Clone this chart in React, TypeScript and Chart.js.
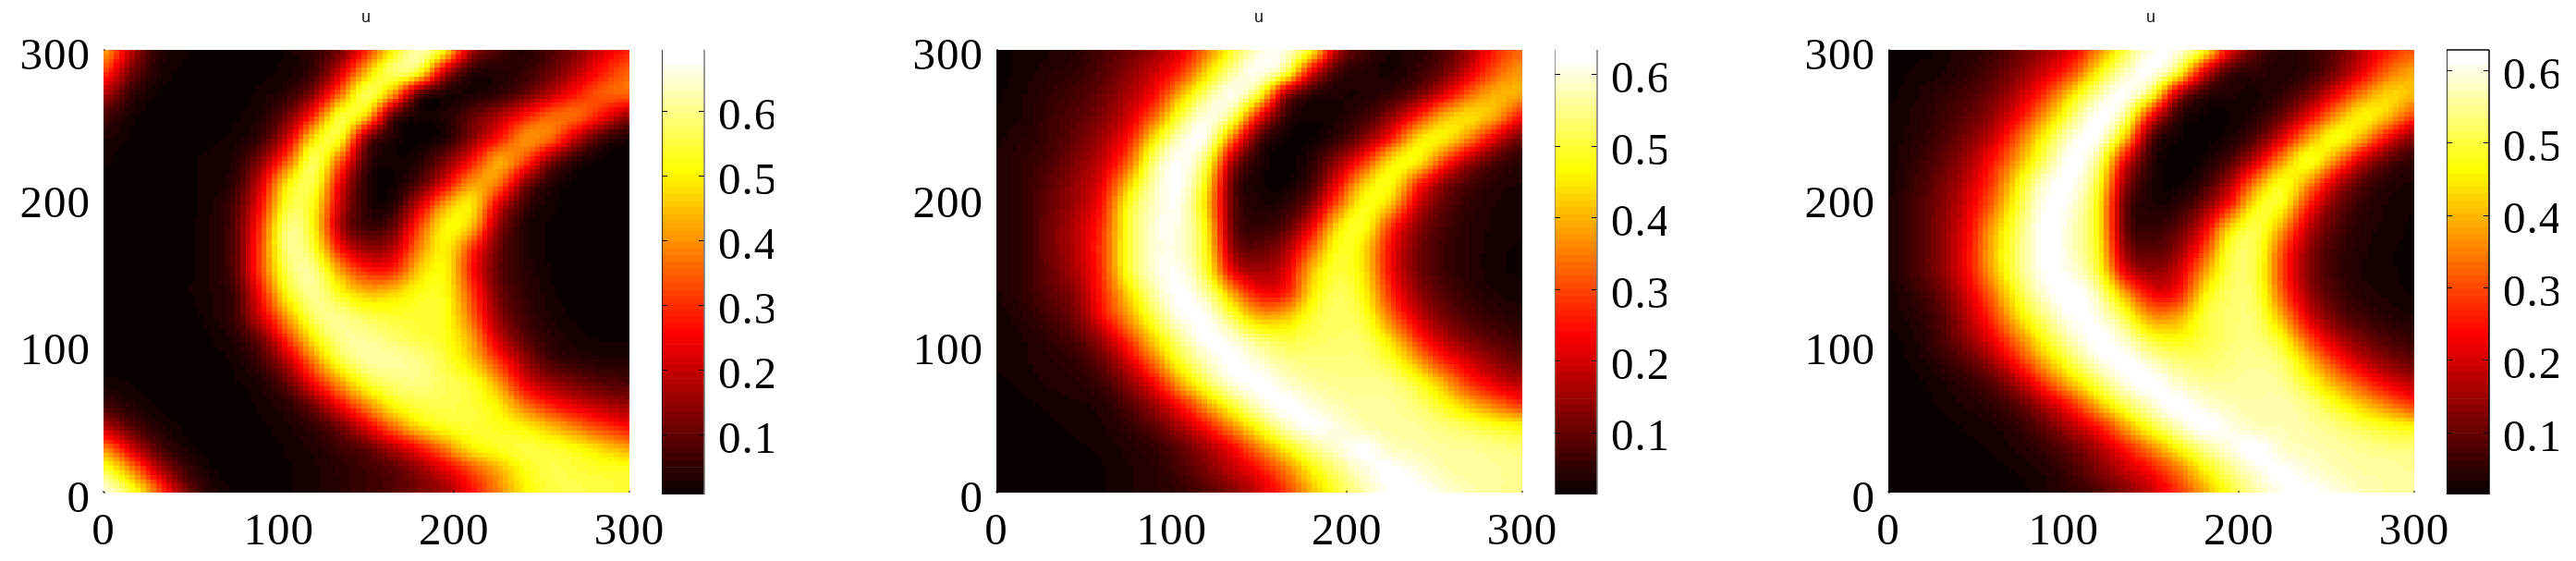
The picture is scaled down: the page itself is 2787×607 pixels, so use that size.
import { useEffect, useRef } from "react"
import { Chart, registerables } from "chart.js"

Chart.register(...registerables)

const gridX = [0, 15, 30, 45, 60, 75, 90, 105, 120, 135, 150, 165, 180, 195, 210, 225, 240, 255, 270, 285, 300]
// rows run top to bottom of the picture
const gridY = [300, 285, 270, 255, 240, 225, 210, 195, 180, 165, 150, 135, 120, 105, 90, 75, 60, 45, 30, 15, 0]
const axisTicks = [0, 100, 200, 300]
const barTicks = [0.1, 0.2, 0.3, 0.4, 0.5, 0.6]

const fieldA = [
  [.45, .20, .04, .02, .01, .01, .01, .02, .05, .10, .28, .50, .65, .53, .16, .07, .03, .07, .13, .22, .28],
  [.33, .12, .03, .015, .01, .01, .015, .02, .05, .20, .45, .61, .57, .17, .03, .03, .05, .10, .18, .28, .36],
  [.18, .05, .015, .01, .01, .01, .02, .04, .13, .36, .61, .42, .05, .015, .02, .04, .09, .18, .28, .36, .37],
  [.07, .02, .01, .01, .01, .015, .03, .11, .30, .58, .48, .06, .015, .03, .10, .17, .28, .37, .38, .26, .13],
  [.03, .015, .01, .01, .015, .02, .05, .20, .51, .56, .10, .02, .01, .02, .13, .26, .42, .38, .18, .05, .02],
  [.02, .01, .01, .015, .02, .03, .13, .34, .61, .35, .05, .015, .03, .12, .26, .45, .34, .12, .03, .01, .01],
  [.015, .01, .01, .015, .02, .04, .21, .51, .58, .23, .025, .01, .07, .22, .42, .40, .13, .03, .01, .01, .01],
  [.01, .01, .01, .015, .02, .07, .26, .56, .53, .19, .03, .025, .20, .43, .52, .22, .05, .02, .01, .01, .01],
  [.01, .01, .01, .015, .025, .08, .31, .62, .52, .15, .05, .09, .32, .53, .46, .14, .03, .015, .01, .01, .01],
  [.01, .01, .01, .015, .025, .08, .33, .62, .55, .26, .14, .17, .39, .52, .30, .10, .03, .015, .01, .01, .01],
  [.01, .01, .01, .015, .025, .08, .33, .58, .62, .42, .28, .28, .47, .52, .27, .09, .04, .015, .01, .01, .01],
  [.01, .01, .01, .015, .025, .05, .27, .53, .62, .52, .44, .47, .53, .53, .32, .11, .05, .02, .01, .01, .01],
  [.01, .01, .01, .015, .02, .06, .22, .43, .59, .61, .56, .54, .54, .53, .36, .14, .06, .025, .015, .01, .01],
  [.01, .01, .01, .01, .015, .035, .11, .31, .51, .61, .61, .58, .55, .53, .42, .20, .08, .04, .02, .015, .015],
  [.015, .01, .01, .01, .01, .02, .06, .19, .39, .56, .62, .62, .60, .55, .46, .30, .15, .06, .04, .03, .03],
  [.02, .015, .01, .01, .01, .015, .03, .10, .27, .42, .55, .59, .60, .57, .54, .42, .22, .15, .11, .08, .07],
  [.06, .03, .015, .01, .01, .01, .02, .04, .12, .26, .40, .52, .56, .56, .55, .50, .36, .27, .21, .17, .14],
  [.18, .08, .03, .015, .01, .01, .015, .025, .05, .11, .23, .37, .49, .54, .55, .53, .50, .44, .37, .30, .25],
  [.40, .22, .08, .025, .01, .01, .01, .02, .03, .06, .09, .17, .26, .38, .50, .54, .56, .55, .52, .47, .42],
  [.57, .42, .20, .07, .02, .01, .01, .015, .025, .04, .06, .08, .14, .22, .32, .42, .52, .56, .55, .54, .54],
  [.68, .57, .38, .14, .04, .015, .01, .015, .025, .04, .06, .08, .12, .15, .26, .38, .50, .55, .56, .55, .54],
]

const fieldB = [
  [.02, .025, .03, .04, .07, .10, .14, .21, .34, .49, .60, .61, .49, .15, .06, .03, .04, .07, .15, .27, .33],
  [.02, .025, .04, .05, .08, .13, .19, .27, .43, .57, .63, .55, .21, .05, .04, .025, .05, .10, .20, .32, .38],
  [.02, .03, .05, .07, .10, .16, .23, .40, .55, .63, .51, .13, .035, .03, .03, .05, .10, .20, .33, .41, .40],
  [.025, .03, .06, .08, .12, .19, .32, .51, .62, .55, .23, .045, .02, .03, .06, .13, .26, .41, .46, .40, .24],
  [.03, .04, .06, .10, .15, .24, .45, .60, .62, .33, .06, .02, .015, .05, .12, .25, .45, .48, .36, .20, .09],
  [.03, .05, .07, .12, .18, .31, .55, .63, .53, .14, .03, .015, .04, .14, .27, .46, .49, .30, .15, .07, .04],
  [.03, .05, .09, .14, .21, .41, .58, .63, .47, .07, .025, .015, .06, .23, .43, .50, .28, .13, .07, .04, .03],
  [.03, .05, .10, .15, .24, .49, .59, .62, .43, .08, .03, .04, .12, .33, .50, .42, .19, .09, .05, .03, .025],
  [.03, .05, .11, .17, .27, .50, .60, .61, .47, .08, .05, .08, .22, .46, .50, .27, .13, .07, .04, .03, .025],
  [.03, .05, .11, .17, .28, .50, .60, .60, .48, .12, .09, .15, .33, .50, .44, .23, .11, .06, .04, .025, .02],
  [.03, .05, .10, .16, .27, .50, .60, .62, .50, .20, .15, .20, .42, .51, .45, .23, .11, .06, .04, .025, .02],
  [.03, .05, .09, .13, .26, .43, .57, .63, .57, .38, .23, .24, .45, .53, .47, .27, .14, .08, .05, .03, .025],
  [.025, .04, .07, .11, .24, .38, .52, .62, .62, .50, .38, .40, .50, .53, .50, .33, .19, .11, .07, .05, .035],
  [.025, .03, .05, .08, .15, .29, .44, .56, .63, .60, .53, .50, .52, .53, .53, .43, .27, .17, .11, .08, .06],
  [.025, .03, .04, .05, .10, .20, .35, .50, .59, .63, .59, .55, .54, .54, .54, .50, .38, .26, .19, .13, .09],
  [.02, .025, .035, .04, .06, .13, .24, .40, .53, .61, .63, .59, .56, .55, .55, .55, .49, .39, .27, .20, .16],
  [.02, .02, .025, .03, .035, .08, .15, .25, .39, .51, .60, .63, .60, .57, .56, .56, .54, .48, .40, .33, .27],
  [.02, .02, .02, .025, .03, .05, .09, .16, .25, .37, .49, .59, .63, .60, .57, .56, .56, .54, .52, .49, .47],
  [.02, .02, .02, .02, .025, .035, .05, .09, .15, .23, .35, .46, .55, .60, .63, .58, .57, .56, .56, .55, .54],
  [.02, .02, .02, .02, .02, .03, .04, .07, .12, .18, .24, .34, .46, .54, .60, .63, .60, .57, .56, .56, .55],
  [.02, .02, .02, .02, .02, .03, .04, .05, .08, .12, .19, .28, .40, .50, .57, .62, .63, .60, .57, .56, .55],
]

const fieldC = [
  [.02, .02, .025, .04, .06, .10, .15, .21, .35, .50, .61, .61, .50, .22, .08, .04, .05, .09, .17, .26, .31],
  [.02, .025, .03, .05, .08, .13, .20, .29, .46, .58, .63, .52, .20, .05, .05, .03, .05, .11, .21, .33, .39],
  [.02, .03, .05, .07, .11, .18, .28, .44, .57, .63, .52, .15, .04, .035, .025, .05, .11, .22, .35, .44, .41],
  [.025, .035, .06, .09, .14, .24, .38, .53, .63, .56, .22, .04, .02, .02, .04, .10, .22, .37, .48, .42, .28],
  [.025, .04, .07, .12, .19, .33, .48, .60, .62, .42, .06, .02, .015, .03, .08, .21, .39, .50, .40, .22, .11],
  [.025, .05, .09, .15, .25, .39, .53, .63, .55, .21, .04, .015, .025, .07, .19, .38, .51, .36, .18, .08, .045],
  [.025, .06, .11, .18, .29, .47, .60, .62, .50, .13, .03, .015, .05, .16, .36, .50, .37, .18, .08, .04, .03],
  [.03, .07, .12, .20, .33, .50, .62, .60, .47, .08, .03, .04, .11, .25, .48, .49, .25, .11, .05, .03, .025],
  [.03, .07, .13, .22, .39, .53, .63, .58, .47, .08, .05, .08, .20, .44, .52, .38, .17, .08, .04, .03, .02],
  [.03, .07, .13, .23, .41, .54, .63, .58, .48, .12, .08, .13, .28, .51, .52, .30, .13, .06, .035, .025, .02],
  [.03, .07, .13, .23, .40, .54, .62, .60, .50, .20, .13, .18, .37, .52, .51, .28, .12, .06, .03, .025, .02],
  [.025, .05, .10, .20, .34, .50, .60, .63, .57, .38, .22, .23, .45, .53, .52, .31, .14, .07, .04, .03, .02],
  [.025, .04, .08, .17, .29, .45, .55, .62, .60, .50, .35, .37, .50, .53, .53, .38, .19, .10, .06, .04, .03],
  [.02, .03, .07, .14, .23, .36, .49, .58, .63, .58, .48, .46, .50, .53, .54, .47, .29, .17, .11, .07, .055],
  [.02, .025, .05, .09, .16, .28, .41, .52, .60, .63, .57, .53, .52, .54, .55, .53, .40, .27, .18, .12, .09],
  [.02, .02, .03, .05, .09, .17, .30, .42, .53, .60, .63, .58, .55, .55, .56, .55, .48, .38, .29, .21, .16],
  [.02, .02, .025, .035, .05, .09, .17, .27, .41, .52, .59, .63, .59, .57, .56, .57, .54, .48, .41, .34, .27],
  [.02, .02, .02, .025, .03, .05, .10, .17, .25, .38, .50, .58, .63, .60, .57, .57, .56, .54, .51, .48, .46],
  [.02, .02, .02, .02, .025, .035, .06, .10, .16, .25, .35, .46, .55, .60, .63, .58, .57, .56, .55, .54, .54],
  [.02, .02, .02, .02, .02, .025, .035, .07, .12, .18, .24, .33, .45, .54, .60, .62, .59, .57, .56, .56, .55],
  [.02, .02, .02, .02, .02, .02, .03, .05, .07, .12, .18, .27, .38, .49, .56, .61, .62, .60, .57, .56, .56],
]

const COLOR_LEVELS = 64

// matlab "hot" with 64 steps
function hotColor(level: number) {
  const t = (level + 1) / COLOR_LEVELS
  const r = Math.min(1, t / 0.375)
  const g = Math.min(1, Math.max(0, (t - 0.375) / 0.375))
  const b = Math.max(0, (t - 0.75) / 0.25)
  return `rgb(${Math.round(r * 255)},${Math.round(g * 255)},${Math.round(b * 255)})`
}

function catmull(a: number, b: number, c: number, d: number, t: number) {
  return b + 0.5 * t * (c - a + t * (2 * a - 5 * b + 4 * c - d + t * (3 * (b - c) + d - a)))
}

function bspline(a: number, b: number, c: number, d: number, t: number) {
  const u = 1 - t
  return (u * u * u * a + (3 * t * t * t - 6 * t * t + 4) * b + (-3 * t * t * t + 3 * t * t + 3 * t + 1) * c + t * t * t * d) / 6
}

// like shading interp: paints the typed grid through the chart's own scales
const heatPlugin = {
  id: "heatField",
  beforeDatasetsDraw(chart: any) {
    const opts = chart.options.plugins.heatField
    const { ctx, scales } = chart
    const rows = opts.rows as number[][]
    const cells = 100
    const at = (c: number, r: number) =>
      rows[Math.min(20, Math.max(0, r))][Math.min(20, Math.max(0, c))]
    const shade = (f: typeof catmull, fx: number, fy: number) => {
      const c0 = Math.floor(fx)
      const r0 = Math.floor(fy)
      const line = [-1, 0, 1, 2].map((dr) =>
        f(at(c0 - 1, r0 + dr), at(c0, r0 + dr), at(c0 + 1, r0 + dr), at(c0 + 2, r0 + dr), fx - c0)
      )
      return f(line[0], line[1], line[2], line[3], fy - r0)
    }
    for (let j = 0; j < cells; j++) {
      for (let i = 0; i < cells; i++) {
        const fx = ((i + 0.5) / cells) * 20
        const fy = ((j + 0.5) / cells) * 20
        const v = 0.55 * shade(catmull, fx, fy) + 0.45 * shade(bspline, fx, fy)
        const level = Math.floor(((v - opts.low) / (opts.high - opts.low)) * COLOR_LEVELS)
        ctx.fillStyle = hotColor(Math.min(COLOR_LEVELS - 1, Math.max(0, level)))
        const x0 = Math.round(scales.x.getPixelForValue((i / cells) * 300))
        const x1 = Math.round(scales.x.getPixelForValue(((i + 1) / cells) * 300))
        const y0 = Math.round(scales.y.getPixelForValue(300 - (j / cells) * 300))
        const y1 = Math.round(scales.y.getPixelForValue(300 - ((j + 1) / cells) * 300))
        ctx.fillRect(x0, y0, x1 - x0, y1 - y0)
      }
    }
  },
}

// small ticks pointing into the axes, as matlab draws them
const innerTicks = {
  id: "innerTicks",
  beforeDraw(chart: any) {
    chart.ctx.letterSpacing = "1px"
  },
  afterDraw(chart: any) {
    const { ctx, chartArea, scales } = chart
    const bar = chart.options.plugins.innerTicks
    ctx.letterSpacing = "0px"
    ctx.save()
    ctx.strokeStyle = "#000"
    ctx.lineWidth = 1
    ctx.beginPath()
    if (bar.colorbar) {
      for (const t of barTicks) {
        const y = Math.round(scales.y.getPixelForValue(t)) + 0.5
        ctx.moveTo(chartArea.left, y)
        ctx.lineTo(chartArea.left + 6, y)
        ctx.moveTo(chartArea.right - 6, y)
        ctx.lineTo(chartArea.right, y)
      }
    } else {
      for (const t of axisTicks) {
        const x = Math.round(scales.x.getPixelForValue(t))
        ctx.moveTo(x, chartArea.bottom)
        ctx.lineTo(x, chartArea.bottom - 2)
        const y = Math.round(scales.y.getPixelForValue(t))
        ctx.moveTo(chartArea.left, y)
        ctx.lineTo(chartArea.left + 2, y)
      }
    }
    ctx.stroke()
    ctx.restore()
    if (bar.colorbar) {
      ctx.save()
      ctx.lineWidth = 1.5
      ctx.strokeStyle = bar.leftLine
      ctx.beginPath()
      ctx.moveTo(chartArea.left, chartArea.top)
      ctx.lineTo(chartArea.left, chartArea.bottom)
      ctx.stroke()
      ctx.strokeStyle = bar.rightLine
      ctx.beginPath()
      ctx.moveTo(chartArea.right, chartArea.top)
      ctx.lineTo(chartArea.right, chartArea.bottom)
      ctx.stroke()
      if (bar.topLine) {
        ctx.strokeStyle = bar.topLine
        ctx.beginPath()
        ctx.moveTo(chartArea.left, chartArea.top)
        ctx.lineTo(chartArea.right, chartArea.top)
        ctx.stroke()
      }
      ctx.restore()
    }
  },
}

const tickFont = { family: "'Liberation Serif', serif", size: 49, lineHeight: "16px" }

interface PanelProps {
  rows: number[][]
  left: number
  barLeft: number
  low: number
  high: number
  axisTop: number
  leftLine: string
  rightLine: string
  topLine?: string
}

const TOP = 54
const HEAT_W = 569
const HEAT_H = 479
const BAR_W = 46
const BAR_H = 481

function HeatChart({ rows, left, low, high }: PanelProps) {
  const ref = useRef<HTMLCanvasElement>(null)
  useEffect(() => {
    if (!ref.current) return
    const points = rows.flatMap((row, r) => row.map((v, c) => ({ x: gridX[c], y: gridY[r], v })))
    const chart = new Chart(ref.current, {
      type: "scatter",
      data: { datasets: [{ data: points, pointRadius: 0, showLine: false }] },
      plugins: [heatPlugin, innerTicks],
      options: {
        animation: false,
        responsive: false,
        layout: { padding: { right: 45 } },
        plugins: {
          legend: { display: false },
          tooltip: { enabled: false },
          title: {
            display: true,
            text: "u",
            color: "#111",
            fullSize: false,
            font: { family: "'Liberation Sans', sans-serif", size: 18, weight: "normal", lineHeight: 1 },
            padding: { top: 10, bottom: TOP - 28 },
          },
          heatField: { rows, low, high },
          innerTicks: { colorbar: false },
        },
        scales: {
          x: {
            type: "linear",
            min: 0,
            max: 300,
            grid: { display: false },
            border: { display: false },
            afterBuildTicks: (s: any) => { s.ticks = axisTicks.map((value) => ({ value })) },
            afterFit: (s: any) => { s.height = 70 },
            ticks: { color: "#000", font: { ...tickFont, lineHeight: 1.1 }, padding: 8, maxRotation: 0, autoSkip: false },
          },
          y: {
            type: "linear",
            min: 0,
            max: 300,
            grid: { display: false },
            border: { display: false },
            afterBuildTicks: (s: any) => { s.ticks = axisTicks.map((value) => ({ value })) },
            afterFit: (s: any) => { s.width = 90 },
            ticks: { color: "#000", font: tickFont, padding: 6, autoSkip: false, callback: (v: any) => ["", String(v)] },
          },
        },
      } as any,
    })
    return () => chart.destroy()
  }, [rows, low, high])
  return (
    <canvas
      ref={ref}
      width={90 + HEAT_W + 45}
      height={TOP + HEAT_H + 70}
      style={{ position: "absolute", left: left - 90, top: 0 }}
    />
  )
}

function ColorBar({ barLeft, low, high, axisTop, leftLine, rightLine, topLine }: PanelProps) {
  const ref = useRef<HTMLCanvasElement>(null)
  useEffect(() => {
    if (!ref.current) return
    const step = (high - low) / COLOR_LEVELS
    const datasets = Array.from({ length: COLOR_LEVELS }, (_, i) => ({
      data: [[low + i * step, low + (i + 1) * step]],
      backgroundColor: hotColor(i),
      barPercentage: 1,
      categoryPercentage: 1,
      grouped: false,
    }))
    const chart = new Chart(ref.current, {
      type: "bar",
      data: { labels: ["u"], datasets },
      plugins: [innerTicks],
      options: {
        animation: false,
        responsive: false,
        layout: { padding: { top: TOP, bottom: 607 - TOP - BAR_H } },
        plugins: {
          legend: { display: false },
          tooltip: { enabled: false },
          innerTicks: { colorbar: true, leftLine, rightLine, topLine },
        },
        scales: {
          x: { display: false, grid: { display: false } },
          y: {
            position: "right",
            min: low,
            max: axisTop,
            grid: { display: false },
            border: { display: false },
            afterBuildTicks: (s: any) => { s.ticks = barTicks.map((value) => ({ value })) },
            afterFit: (s: any) => { s.width = 75 },
            ticks: { color: "#000", font: { ...tickFont, lineHeight: "14px" }, padding: 7, autoSkip: false, callback: (v: any) => ["", Number(v).toFixed(1)] },
          },
        },
      } as any,
    })
    return () => chart.destroy()
  }, [low, high, axisTop, leftLine, rightLine, topLine])
  return (
    <canvas
      ref={ref}
      width={BAR_W + 75}
      height={607}
      style={{ position: "absolute", left: barLeft, top: 0 }}
    />
  )
}

const panels: PanelProps[] = [
  { rows: fieldA, left: 112, barLeft: 716, low: 0.007, high: 0.682, axisTop: 0.694, leftLine: "#000", rightLine: "#777" },
  { rows: fieldB, left: 1078, barLeft: 1682, low: 0.013, high: 0.624, axisTop: 0.634, leftLine: "#777", rightLine: "#777" },
  { rows: fieldC, left: 2043, barLeft: 2647, low: 0.014, high: 0.618, axisTop: 0.628, leftLine: "#000", rightLine: "#000", topLine: "#000" },
]

export default function App() {
  return (
    <div style={{ position: "absolute", left: 0, top: 0, width: 2787, height: 607, background: "#fff", overflow: "hidden" }}>
      {panels.map((p) => (
        <div key={p.left}>
          <HeatChart {...p} />
          <ColorBar {...p} />
        </div>
      ))}
    </div>
  )
}
